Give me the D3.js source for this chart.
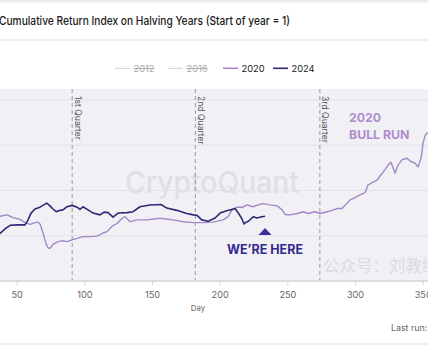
<!DOCTYPE html>
<html><head><meta charset="utf-8">
<script src="https://cdn.jsdelivr.net/npm/d3@7"></script>
<style>html,body{margin:0;padding:0;background:#fff;overflow:hidden}svg{display:block}</style>
</head><body>
<script>
const title = "Cumulative Return Index on Halving Years (Start of year = 1)";
const legendYears = ["2012","2016","2020","2024"];
const legendHidden = [true,true,false,false];
const xTicks = [50,100,150,200,250,300,350];
const yGrid = [1,2,3,4];
const quarterDays = [91,182,274];
const quarterLabels = ["1st Quarter","2nd Quarter","3rd Quarter"];

const days2020 = [1,7,14,19,24,31,35,37.7,42.9,47.3,52.5,56.2,59.9,63.6,65.8,67.2,69.5,71.7,73.2,74.6,76.8,79.8,83.5,87.2,90.9,94.6,99,104.2,109.4,113.8,116.8,120.5,124.1,127.8,130,133.7,138.9,146.3,153.7,158.1,165.5,172.9,180.3,187.7,195.1,202.5,206.2,209.1,212.8,217.2,220.2,224.6,228.3,232,237.2,242.4,246.1,248.3,252,257.2,261.6,265.3,270.4,274.1,279.3,283,286.7,290.4,294.1,296.3,300,303.7,307.4,309.6,312.6,316.3,318.5,322.2,324.4,326.6,329.6,331.8,334.8,338.5,340.7,344.4,346.6,348.8,350.3,351.8,353.2,356,360,363,366];
const vals2020 = [1,1.09,1.22,1.24,1.17,1.30,1.36,1.43,1.46,1.40,1.36,1.29,1.25,1.29,1.30,1.26,1.06,0.82,0.73,0.72,0.81,0.86,0.89,0.87,0.91,0.94,0.98,0.98,0.99,1.06,1.09,1.21,1.27,1.38,1.42,1.31,1.35,1.35,1.38,1.38,1.35,1.31,1.29,1.29,1.30,1.35,1.42,1.57,1.63,1.63,1.68,1.64,1.68,1.71,1.68,1.66,1.57,1.47,1.46,1.49,1.53,1.49,1.53,1.49,1.53,1.56,1.60,1.60,1.72,1.79,1.84,1.90,1.95,2.12,2.17,2.23,2.32,2.46,2.56,2.62,2.38,2.56,2.68,2.71,2.65,2.60,2.52,2.72,3.05,3.21,3.27,3.25,3.40,3.70,4.00];

const days2024 = [1,3,11,23,31,35,37.7,41.4,45.1,51,56.2,58.4,60.6,63.5,67.2,72.2,74.6,76.8,79.2,82,84.2,87.2,90.9,94.6,96.8,99,102.7,106.4,111.6,114.5,117.5,121.2,124.9,131.5,136,141.1,148.5,156.6,160.9,168.3,175.6,180.5,183.3,186.7,191.4,196.6,200.3,205.2,208.9,211.3,213.8,216.3,218,219.5,221.2,224.9,227.4,231.1,233.5];
const vals2024 = [1,1.06,1.10,0.94,1.02,1.01,1.05,1.15,1.23,1.24,1.24,1.35,1.50,1.59,1.63,1.72,1.66,1.59,1.53,1.56,1.57,1.64,1.67,1.63,1.58,1.64,1.57,1.50,1.46,1.52,1.51,1.41,1.50,1.51,1.53,1.64,1.68,1.69,1.61,1.56,1.49,1.46,1.45,1.35,1.32,1.39,1.50,1.55,1.58,1.60,1.50,1.38,1.26,1.30,1.32,1.42,1.39,1.42,1.43];

const W = 428, H = 347;
const plotTop = 89, plotBottom = 281;
const svg = d3.select("body").append("svg").attr("width", W).attr("height", H)
  .style("font-family", "Inter, 'Open Sans', Roboto, sans-serif");

svg.append("rect").attr("width", W).attr("height", H).attr("fill", "#fff");
svg.append("rect").attr("width", W).attr("height", 2.5).attr("fill", "#ececec");
svg.append("rect").attr("y", 39).attr("width", W).attr("height", 2).attr("fill", "#efefef");
svg.append("rect").attr("y", 343).attr("width", W).attr("height", 2).attr("fill", "#efefef");

svg.append("text").attr("x", -1).attr("y", 25).attr("font-size", 11.8).attr("font-weight", 500)
  .attr("textLength", 291).attr("lengthAdjust", "spacingAndGlyphs")
  .attr("fill", "#1a1a1a").text(title);

const x = d3.scaleLinear().domain([50, 350]).range([16.7, 422.7]);
const y = d3.scaleLinear().domain([0, 4.24]).range([plotBottom, plotTop]);

svg.append("clipPath").attr("id", "pc").append("rect")
  .attr("x", 0).attr("y", plotTop).attr("width", W).attr("height", plotBottom - plotTop);

svg.append("rect").attr("x", 0).attr("y", plotTop).attr("width", W).attr("height", plotBottom - plotTop)
  .attr("fill", "#f1f1f5");

svg.append("g").selectAll("line").data(yGrid).join("line")
  .attr("x1", 0).attr("x2", W).attr("y1", d => y(d)).attr("y2", d => y(d))
  .attr("stroke", "#e2e2e8").attr("stroke-width", 1);

// watermarks
svg.append("text").attr("x", 125).attr("y", 193).attr("font-size", 30).attr("font-weight", 500)
  .attr("textLength", 174).attr("lengthAdjust", "spacingAndGlyphs")
  .attr("fill", "#dfdfe4").text("CryptoQuant");
svg.append("text").attr("x", 323).attr("y", 272).attr("font-size", 16.5)
  .attr("font-family", "'Noto Sans CJK SC', sans-serif")
  .attr("fill", "#dadadf").text("公众号：刘教练");

// quarter lines
const q = svg.append("g");
q.selectAll("line").data(quarterDays).join("line")
  .attr("x1", d => x(d)).attr("x2", d => x(d)).attr("y1", plotTop).attr("y2", plotBottom)
  .attr("stroke", "#9a9aa0").attr("stroke-width", 1).attr("stroke-dasharray", "4,3");
q.selectAll("text").data(quarterDays).join("text")
  .attr("transform", d => `translate(${x(d) + 2.5},${plotTop + 7}) rotate(90)`)
  .attr("font-size", 8.6).attr("fill", "#555").text((d, i) => quarterLabels[i]);

// x axis
svg.append("line").attr("x1", 0).attr("x2", W).attr("y1", plotBottom).attr("y2", plotBottom)
  .attr("stroke", "#d4d4d8").attr("stroke-width", 1.5);
const ax = svg.append("g").attr("transform", `translate(0,${plotBottom})`)
  .call(d3.axisBottom(x).tickValues(xTicks).tickSize(4).tickPadding(6));
ax.select(".domain").remove();
ax.selectAll(".tick line").attr("stroke", "#d4d4d8");
ax.selectAll(".tick text").attr("fill", "#666").attr("font-size", 9.2)
  .attr("font-family", "Inter, 'Open Sans', Roboto, sans-serif");
svg.append("text").attr("x", 198).attr("y", 311).attr("text-anchor", "middle")
  .attr("font-size", 7.8).attr("fill", "#666").text("Day");
svg.append("text").attr("x", 391).attr("y", 331).attr("font-size", 8.8)
  .attr("fill", "#666").text("Last run:");

// lines
const line = d3.line().x(d => x(d[0])).y(d => y(d[1]));
const g = svg.append("g").attr("clip-path", "url(#pc)");
g.append("path").datum(days2020.map((d, i) => [d, vals2020[i]]))
  .attr("d", line).attr("fill", "none").attr("stroke", "#a287c6").attr("stroke-width", 1.4)
  .attr("stroke-linejoin", "round");
g.append("path").datum(days2024.map((d, i) => [d, vals2024[i]]))
  .attr("d", line).attr("fill", "none").attr("stroke", "#2c2975").attr("stroke-width", 1.6)
  .attr("stroke-linejoin", "round");

// annotations
svg.append("text").attr("x", 349).attr("y", 122).attr("font-size", 12.3).attr("font-weight", 700)
  .attr("fill", "#ae8dcf").text("2020");
svg.append("text").attr("x", 349).attr("y", 138.5).attr("font-size", 12.3).attr("font-weight", 700)
  .attr("fill", "#ae8dcf").text("BULL RUN");
const hereX = x(233.5);
svg.append("path").attr("d", `M${hereX - 6.5},235 L${hereX + 6.5},235 L${hereX},228 Z`).attr("fill", "#3b2f9a");
svg.append("text").attr("x", hereX).attr("y", 254).attr("text-anchor", "middle")
  .attr("font-size", 12.5).attr("font-weight", 700).attr("fill", "#33298f").text("WE\u2019RE HERE");

// legend
const legColors = ["#cfcfd4", "#cfcfd4", "#a287c6", "#2c2975"];
const legLineX = [115, 168, 223, 273];
const leg = svg.append("g");
legendYears.forEach((yr, i) => {
  leg.append("line").attr("x1", legLineX[i]).attr("x2", legLineX[i] + 15).attr("y1", 68.3).attr("y2", 68.3)
    .attr("stroke", legColors[i]).attr("stroke-width", legendHidden[i] ? 1 : 1.6);
  const t = leg.append("text").attr("x", legLineX[i] + 18.5).attr("y", 71.6).attr("font-size", 9.3)
    .attr("fill", legendHidden[i] ? "#aaa" : "#222").text(yr);
  if (legendHidden[i]) t.attr("text-decoration", "line-through");
});
</script>
</body></html>
